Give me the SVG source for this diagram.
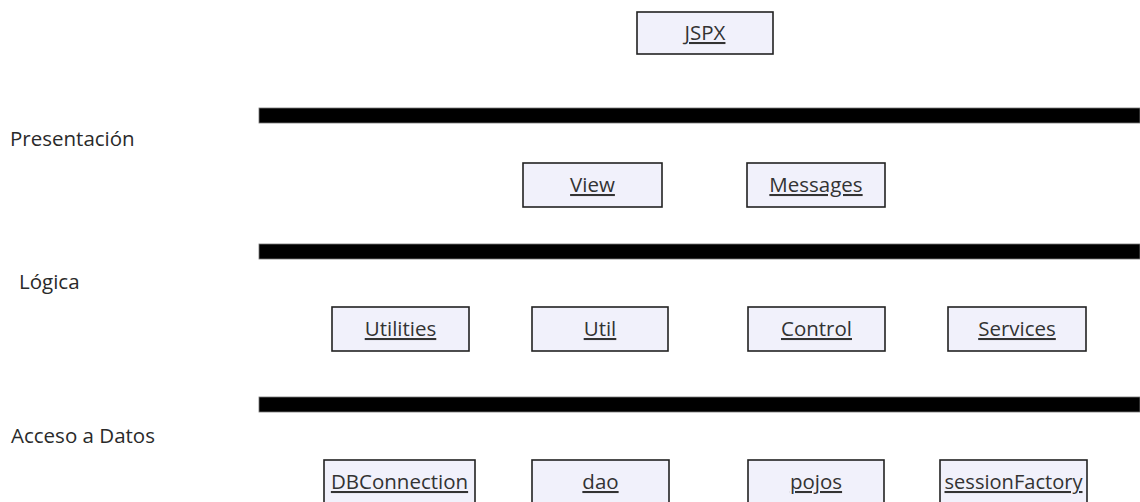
<svg xmlns="http://www.w3.org/2000/svg" width="1140" height="502" viewBox="0 0 1140 502">
  <style>
    .box { fill: #f1f1fb; stroke: #222; stroke-width: 1.6; }
    .name { font-family: "Open Sans", "DejaVu Sans", sans-serif; font-size: 20.5px; fill: #333; text-anchor: middle; text-decoration: underline; }
    .layer { font-family: "Open Sans", "DejaVu Sans", sans-serif; font-size: 20.5px; fill: #2a2a2a; }
    .bar { fill: #000; stroke: #777; stroke-width: 0.8; }
  </style>
  <rect width="1140" height="502" fill="#fff"/>

  <!-- layer names -->
  <g id="layer-labels">
    <text class="layer" x="10" y="146">Presentación</text>
    <text class="layer" x="19" y="289">Lógica</text>
    <text class="layer" x="11" y="443">Acceso a Datos</text>
  </g>

  <!-- layer separators -->
  <g id="separators">
    <rect class="bar" x="259" y="108" width="881" height="15"/>
    <rect class="bar" x="259" y="244" width="881" height="15"/>
    <rect class="bar" x="259" y="397" width="881" height="15"/>
  </g>

  <g id="jspx">
    <rect class="box" x="637" y="12" width="136" height="42"/>
    <text class="name" x="705" y="40">JSPX</text>
  </g>

  <g id="view">
    <rect class="box" x="523" y="163" width="139" height="44"/>
    <text class="name" x="592.5" y="192">View</text>
  </g>
  <g id="messages">
    <rect class="box" x="747" y="163" width="138" height="44"/>
    <text class="name" x="816" y="192">Messages</text>
  </g>

  <g id="utilities">
    <rect class="box" x="332" y="307" width="137" height="44"/>
    <text class="name" x="400.5" y="336">Utilities</text>
  </g>
  <g id="util">
    <rect class="box" x="532" y="307" width="136" height="44"/>
    <text class="name" x="600" y="336">Util</text>
  </g>
  <g id="control">
    <rect class="box" x="748" y="307" width="137" height="44"/>
    <text class="name" x="816.5" y="336">Control</text>
  </g>
  <g id="services">
    <rect class="box" x="948" y="307" width="138" height="44"/>
    <text class="name" x="1017" y="336">Services</text>
  </g>

  <g id="dbconnection">
    <rect class="box" x="324" y="460" width="151" height="44"/>
    <text class="name" x="399.5" y="489">DBConnection</text>
  </g>
  <g id="dao">
    <rect class="box" x="532" y="460" width="137" height="44"/>
    <text class="name" x="600.5" y="489">dao</text>
  </g>
  <g id="pojos">
    <rect class="box" x="748" y="460" width="136" height="44"/>
    <text class="name" x="816" y="489">pojos</text>
  </g>
  <g id="sessionfactory">
    <rect class="box" x="940" y="460" width="147" height="44"/>
    <text class="name" x="1013.5" y="489" textLength="138" lengthAdjust="spacingAndGlyphs">sessionFactory</text>
  </g>
</svg>
